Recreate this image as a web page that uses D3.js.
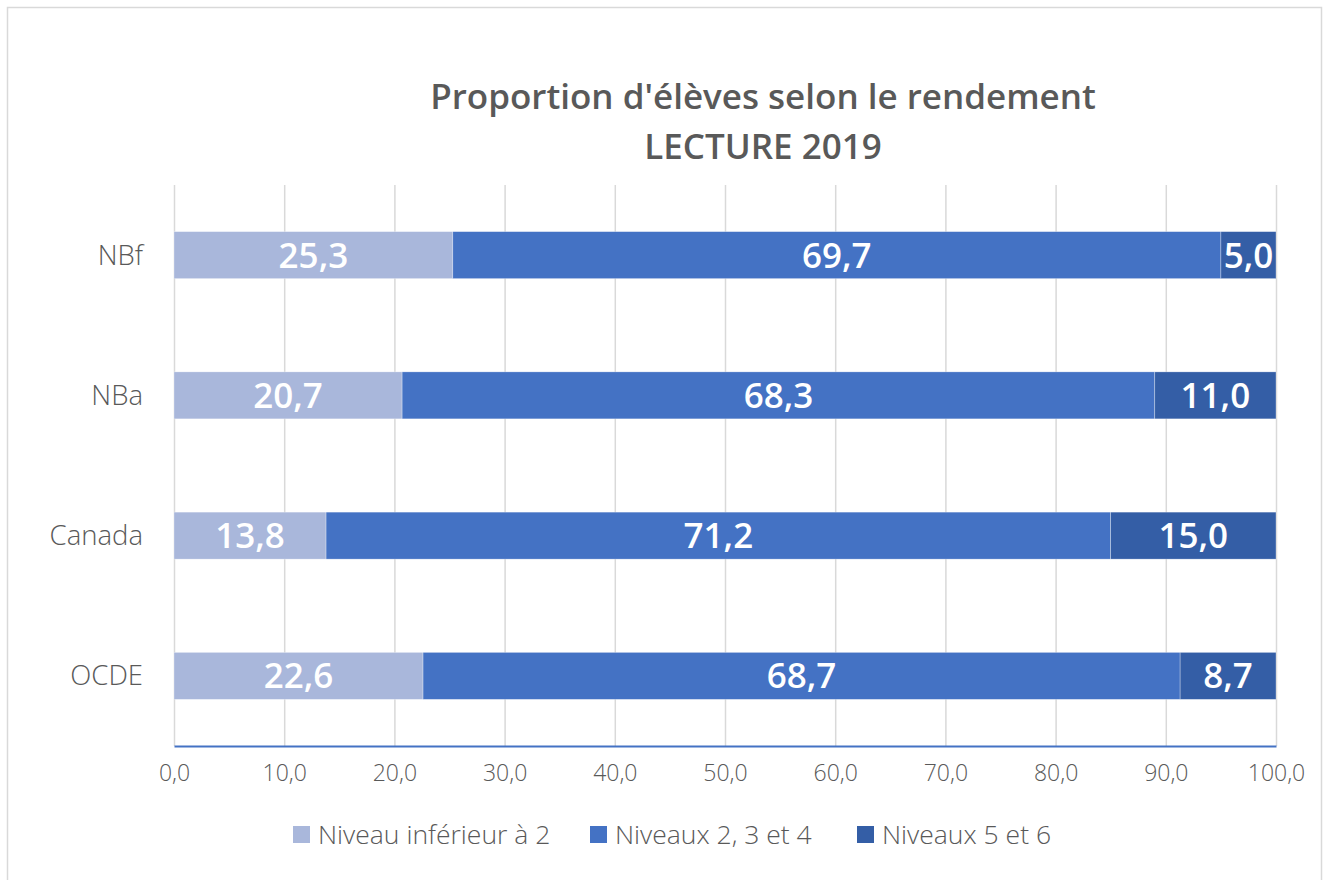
<!DOCTYPE html>
<html>
<head>
<meta charset="utf-8">
<script src="https://cdn.jsdelivr.net/npm/d3@7"></script>
<style>
  html, body { margin: 0; padding: 0; background: #ffffff; }
  svg { display: block; }
  text { font-family: "Open Sans", "Noto Sans", sans-serif; }
</style>
</head>
<body>
<svg id="chart" width="1323" height="880"></svg>
<script>
const categories = ["NBf", "NBa", "Canada", "OCDE"];
const seriesNames = ["Niveau inférieur à 2", "Niveaux 2, 3 et 4", "Niveaux 5 et 6"];
const lowValues = [25.3, 20.7, 13.8, 22.6];
const midValues = [69.7, 68.3, 71.2, 68.7];
const highValues = [5.0, 11.0, 15.0, 8.7];
const xTicks = [0, 10, 20, 30, 40, 50, 60, 70, 80, 90, 100];
const titleLines = ["Proportion d'élèves selon le rendement", "LECTURE 2019"];
const colors = ["#A9B7DB", "#4472C4", "#345EA6"];

const svg = d3.select("#chart");
const W = 1323, H = 880;
const margin = { left: 174, right: 1323 - 1276, top: 185, bottom: 880 - 746 };

// chart border
svg.append("rect").attr("x", 7.5).attr("y", 7.5).attr("width", 1314).attr("height", 900)
  .attr("fill", "#fff").attr("stroke", "#d9d9d9").attr("stroke-width", 1.5);

const x = d3.scaleLinear().domain([0, 100]).range([margin.left, W - margin.right]);
const y = d3.scaleBand().domain(categories).range([margin.top, H - margin.bottom]).paddingInner(0.665).paddingOuter(0.3325);

// gridlines
const grid = svg.append("g").attr("transform", `translate(0,${H - margin.bottom})`)
  .call(d3.axisBottom(x).tickValues(xTicks).tickSize(-(H - margin.bottom - margin.top)).tickFormat(""));
grid.select(".domain").remove();
grid.selectAll(".tick line").attr("stroke", "#d9d9d9").attr("stroke-width", 1.5);

// stacked data
const rows = categories.map((c, i) => ({ cat: c, s0: lowValues[i], s1: midValues[i], s2: highValues[i] }));
const stack = d3.stack().keys(["s0", "s1", "s2"])(rows);

const fmt = v => d3.format(".1f")(v).replace(".", ",");

const layers = svg.append("g").selectAll("g").data(stack).join("g").attr("fill", (d, i) => colors[i]);
layers.selectAll("rect").data(d => d).join("rect")
  .attr("x", d => x(d[0]))
  .attr("y", d => y(d.data.cat))
  .attr("width", d => x(d[1]) - x(d[0]))
  .attr("height", y.bandwidth())
  .attr("stroke", "#ffffff").attr("stroke-width", 0.6).attr("stroke-opacity", 0.5);

layers.selectAll("text").data(d => d).join("text")
  .attr("x", d => (x(d[0]) + x(d[1])) / 2)
  .attr("y", d => y(d.data.cat) + y.bandwidth() / 2 + 12.5)
  .attr("text-anchor", "middle")
  .attr("fill", "#ffffff")
  .attr("font-size", 35)
  .attr("font-weight", 600)
  .text(d => fmt(d[1] - d[0]));

// category axis labels
svg.append("g").selectAll("text").data(categories).join("text")
  .attr("x", 143).attr("y", d => y(d) + y.bandwidth() / 2 + 9.5)
  .attr("text-anchor", "end").attr("fill", "#595959").attr("font-size", 27.5).attr("font-weight", 300)
  .text(d => d);

// bottom axis
const xAxis = svg.append("g").attr("transform", `translate(0,${H - margin.bottom})`)
  .call(d3.axisBottom(x).tickValues(xTicks).tickSize(0).tickPadding(19).tickFormat(fmt));
xAxis.select(".domain").attr("stroke", "#4472C4").attr("stroke-width", 2);
xAxis.selectAll(".tick text").attr("fill", "#595959").attr("font-size", 23).attr("font-weight", 300)
  .attr("font-family", "'Open Sans', sans-serif");

// title
svg.append("g").selectAll("text").data(titleLines).join("text")
  .attr("x", 763).attr("y", (d, i) => 109 + i * 50)
  .attr("text-anchor", "middle").attr("fill", "#595959").attr("font-size", 35).attr("font-weight", 600)
  .text(d => d);

// legend
const legendX = [293, 590, 857];
const legend = svg.append("g").selectAll("g").data(seriesNames).join("g")
  .attr("transform", (d, i) => `translate(${legendX[i]},826)`);
legend.append("rect").attr("width", 17).attr("height", 17).attr("fill", (d, i) => colors[i]);
legend.append("text").attr("x", 25).attr("y", 18).attr("fill", "#595959").attr("font-size", 26.5).attr("font-weight", 300)
  .text(d => d);
</script>
</body>
</html>
